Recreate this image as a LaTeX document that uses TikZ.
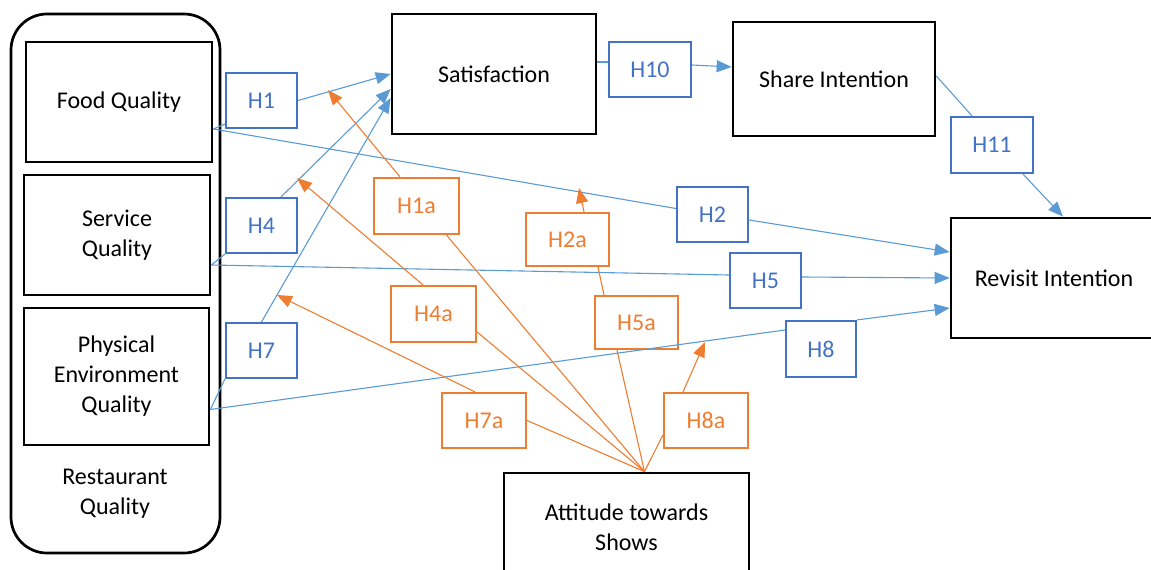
\documentclass[tikz,border=0pt]{standalone}
\usepackage{fontspec}
\setmainfont{Carlito}
\usetikzlibrary{arrows.meta,positioning,calc}

\definecolor{hypblue}{HTML}{4472C4}
\definecolor{linkblue}{HTML}{5B9BD5}
\definecolor{hyporange}{HTML}{ED7D31}

\begin{document}
\begin{tikzpicture}[x=1pt,y=-1pt,
		every node/.style={font=\fontsize{24}{30}\selectfont, inner sep=0pt, align=center},
		construct/.style={draw, line width=2.7pt, minimum width=186pt, minimum height=120pt},
		hypb/.style={draw=hypblue, line width=2.2pt, text=hypblue, minimum width=71pt, minimum height=55pt},
		hypo/.style={draw=hyporange, line width=2.2pt, text=hyporange, minimum width=84pt, minimum height=55pt},
		bline/.style={linkblue, line width=1.1pt},
		oline/.style={hyporange, line width=1.1pt},
		tip/.style={-{Triangle[length=15pt,width=12pt]}}]
			\useasboundingbox (0,0) rectangle (1151,570);
			\clip (0,0) rectangle (1151,570);
			
			% Restaurant quality
			\node[draw, line width=2.7pt, rounded corners=36pt, minimum width=209pt, minimum height=539pt] (rq) at (115.5,283.5) {};
			\node (rqlabel) at (115,494) {Restaurant\\Quality};
			\node[construct] (food) at (119,102) {Food Quality};
			\node[construct] (service) at (117,235) {Service\\Quality};
			\node[construct, minimum width=185pt, minimum height=137pt] (phys) at (116.5,376.5) {Physical\\Environment\\Quality};
			
			% Outcomes
			\node[construct, minimum width=204pt] (sat) at (494,74) {Satisfaction};
			\node[construct, minimum width=202pt, minimum height=114pt] (share) at (834,79) {Share Intention};
			\node[construct, minimum width=206pt] (revisit) at (1054,278) {Revisit Intention};
			\node[construct, minimum width=245pt, minimum height=108pt] (att) at (626.5,527) {Attitude towards\\Shows};
			
			% Direct paths
			\node[hypb] (h1) at (261.5,100.5) {H1};
			\node[hypb] (h4) at (261.5,225.5) {H4};
			\node[hypb] (h7) at (261.5,350.5) {H7};
			\node[hypb, minimum width=82pt] (h10) at (650,69.5) {H10};
			\node[hypb, minimum width=82pt, minimum height=56pt] (h11) at (992,145) {H11};
			\node[hypb] (h2) at (712.5,214.5) {H2};
			\node[hypb] (h5) at (765.5,280.5) {H5};
			\node[hypb, minimum width=70pt, minimum height=56pt] (h8) at (821,349) {H8};
			
			% Moderation
			\node[hypo, minimum width=85pt, minimum height=56pt] (h1a) at (416.5,206) {H1a};
			\node[hypo, minimum width=83pt, minimum height=53pt] (h2a) at (567.5,239.5) {H2a};
			\node[hypo, minimum width=85pt, minimum height=56pt] (h4a) at (433.5,314) {H4a};
			\node[hypo, minimum width=83pt, minimum height=53pt] (h5a) at (636.5,322.5) {H5a};
			\node[hypo] (h7a) at (484,420.5) {H7a};
			\node[hypo] (h8a) at (706,420.5) {H8a};
			
			\coordinate (fqout) at ([yshift=-27pt]food.east);
			\coordinate (sqout) at ([yshift=-30pt]service.east);
			\coordinate (peout) at ([yshift=-33pt]phys.east);
			\coordinate (attin) at ([xshift=18pt]att.north);
			\coordinate (h1amark) at (328,90);
			\coordinate (h4amark) at (297,178);
			\coordinate (h7amark) at (277,295);
			\coordinate (h2amark) at (579,188);
			\coordinate (h8amark) at (705,342);
			
			% Blue links
			\draw[bline] (fqout) -- ([yshift=5pt]h1.south west);
			\draw[bline,tip] (h1.east) -- (sat.west);
			\draw[bline] (fqout) -- ([yshift=6pt]h2.west);
			\draw[bline,tip] ([yshift=-5.5pt]h2.east) -- ([yshift=26pt]revisit.west);
			\draw[bline] (sqout) -- (h4.south west);
			\draw[bline,tip] ([xshift=19.5pt]h4.north) -- ([yshift=-15pt]sat.west);
			\draw[bline] (sqout) -- ([yshift=5.5pt]h5.west);
			\draw[bline,tip] ([yshift=3.5pt]h5.east) -- (revisit.west);
			\draw[bline] (peout) -- (h7.south west);
			\draw[bline,tip] (h7.north) -- ([yshift=-24pt]sat.west);
			\draw[bline] (peout) -- ([yshift=19pt]h8.west);
			\draw[bline,tip] (h8.north east) -- ([yshift=-30pt]revisit.west);
			\draw[bline] ([yshift=12pt]sat.east) -- ([yshift=7.5pt]h10.west);
			\draw[bline,tip] ([yshift=4.5pt]h10.east) -- ([yshift=12pt]share.west);
			\draw[bline] ([yshift=3pt]share.east) -- ([xshift=-20pt]h11.north);
			\draw[bline,tip] ([xshift=31pt]h11.south) -- ([xshift=9pt]revisit.north);
			
			% Orange links
			\draw[oline] (attin) -- ([xshift=30pt]h1a.south);
			\draw[oline,tip] ([xshift=-16.5pt]h1a.north) -- (h1amark);
			\draw[oline] (attin) -- ([yshift=-18pt]h4a.east);
			\draw[oline,tip] ([xshift=-10.5pt]h4a.north) -- (h4amark);
			\draw[oline] (attin) -- (h7a.east);
			\draw[oline,tip] ([xshift=-9pt]h7a.north) -- (h7amark);
			\draw[oline] (attin) -- ([xshift=-19.5pt]h5a.south);
			\draw[oline] ([xshift=-32.5pt]h5a.north) -- ([xshift=30.5pt]h2a.south);
			\draw[oline,tip] ([xshift=16.5pt]h2a.north) -- (h2amark);
			\draw[oline] (attin) -- ([yshift=-14.5pt]h8a.west);
			\draw[oline,tip] ([xshift=-23pt]h8a.north) -- (h8amark);
		\end{tikzpicture}
\end{document}
